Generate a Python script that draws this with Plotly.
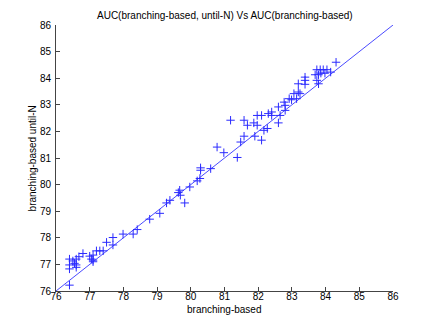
import plotly.graph_objects as go

# branching-based AUC (x) vs branching-based until-N AUC (y)
x_vals = [
    76.40, 76.40, 76.40, 76.50, 76.55, 76.60, 76.60, 76.60, 76.68, 76.80,
    76.40, 77.00, 77.05, 77.10, 77.10, 77.10, 77.20, 77.30, 77.40, 77.50,
    77.69, 77.69, 77.99, 78.29, 78.41, 78.78, 79.08, 79.28, 79.38, 79.63,
    79.67, 79.69, 79.82, 79.97, 80.19, 80.27, 80.29, 80.29, 80.59, 80.78,
    80.98, 81.18, 81.38, 81.48, 81.58, 81.58, 81.68, 81.87, 81.90, 81.97,
    81.97, 82.10, 82.17, 82.10, 82.27, 82.30, 82.40, 82.40, 82.60, 82.60,
    82.65, 82.77, 82.80, 82.80, 82.92, 82.99, 83.06, 83.14, 83.19, 83.19,
    83.24, 83.39, 83.39, 83.39, 83.69, 83.74, 83.74, 83.79, 83.79, 83.84,
    83.86, 83.93, 83.98, 84.04, 84.15, 84.31,
]
y_vals = [
    77.20, 76.98, 76.83, 77.13, 77.04, 77.20, 76.98, 76.89, 77.29, 77.41,
    76.22, 77.31, 77.20, 77.35, 77.16, 77.10, 77.51, 77.51, 77.51, 77.83,
    78.01, 77.73, 78.14, 78.14, 78.31, 78.70, 78.92, 79.31, 79.41, 79.70,
    79.79, 79.60, 79.31, 79.91, 80.14, 80.23, 80.54, 80.63, 80.60, 81.41,
    81.20, 82.42, 81.02, 81.60, 81.82, 82.42, 82.23, 82.32, 81.82, 82.60,
    82.23, 81.67, 82.04, 82.60, 82.11, 82.67, 82.73, 82.60, 82.32, 82.92,
    82.60, 83.10, 82.98, 82.79, 83.23, 83.19, 83.42, 83.23, 83.79, 83.48,
    83.42, 84.04, 83.92, 83.77, 84.13, 84.32, 83.92, 84.13, 83.79, 84.32,
    84.19, 84.32, 84.19, 84.32, 84.23, 84.60,
]
diag = [76, 86]
ticks = list(range(76, 87))

fig = go.Figure()
fig.add_trace(go.Scatter(
    x=diag, y=diag, mode='lines',
    line=dict(color='#3535ff', width=0.9),
    hoverinfo='skip'
))
fig.add_trace(go.Scatter(
    x=x_vals, y=y_vals, mode='markers',
    marker=dict(symbol='cross-thin', size=6,
                line=dict(color='#2a2aff', width=1)),
))

axis_common = dict(
    range=[76, 86], tickvals=ticks, ticktext=[str(t) for t in ticks],
    ticks='inside', ticklen=4, tickcolor='#444', tickwidth=1,
    showline=True, linecolor='#444', linewidth=1,
    showgrid=False, zeroline=False, mirror=False,
    tickfont=dict(family='Liberation Sans', size=10, color='black'),
)

# the page body adds ~8px offset, so margins are compensated
fig.update_layout(
    width=434, height=327,
    margin=dict(l=48.4, r=49.2, t=16.5, b=44),
    paper_bgcolor='white', plot_bgcolor='white',
    showlegend=False,
    font=dict(family='Liberation Sans', size=10, color='black'),
    xaxis=dict(**axis_common, ticklabelstandoff=-4),
    yaxis=dict(**axis_common, ticklabelstandoff=2),
    annotations=[
        dict(text='AUC(branching-based, until-N) Vs AUC(branching-based)',
             xref='paper', yref='paper', x=0.5, y=1.035,
             xanchor='center', yanchor='middle',
             showarrow=False, font=dict(size=10)),
        dict(text='branching-based', xref='paper', yref='paper',
             x=0.5, y=-0.068, xanchor='center', yanchor='middle',
             showarrow=False, font=dict(size=10)),
        dict(text='branching-based until-N', xref='paper', yref='paper',
             x=-0.07, y=0.5, xanchor='center', yanchor='middle',
             textangle=-90, showarrow=False, font=dict(size=10)),
    ],
)

fig.write_html("out.html")
